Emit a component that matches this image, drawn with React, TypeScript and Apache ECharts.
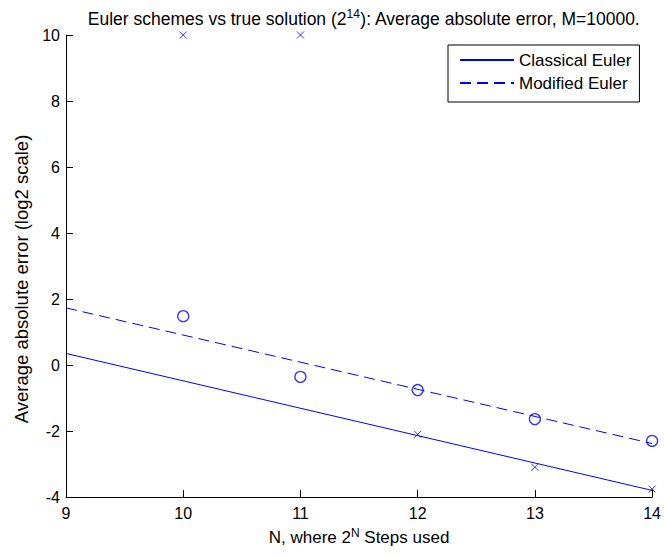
import React, { useEffect, useRef } from "react";
import * as echarts from "echarts";

const classicalX = [10, 11, 12, 13, 14];
const classicalY = [10, 10, -2.1, -3.1, -3.76];
const modifiedX = [10, 11, 12, 13, 14];
const modifiedY = [1.48, -0.36, -0.76, -1.64, -2.3];
const classicalFitX = [9, 14];
const classicalFitY = [0.35, -3.8];
const modifiedFitX = [9, 14];
const modifiedFitY = [1.73, -2.38];
const legendNames = ["Classical Euler", "Modified Euler"];

const BLUE = "#0000ff";
const FONT = "Liberation Sans, Arial, sans-serif";

export default function App() {
  const ref = useRef<HTMLDivElement>(null);
  useEffect(() => {
    const chart = echarts.init(ref.current!, null, { renderer: "svg" });
    const zip = (xs: number[], ys: number[]) => xs.map((x, i) => [x, ys[i]]);
    chart.setOption({
      animation: false,
      backgroundColor: "#fff",
      textStyle: { fontFamily: FONT },
      title: {
        text: "{a|Euler schemes vs true solution (2}{s|14}{a|): Average absolute error, M=10000.}",
        left: 359,
        top: 3,
        textAlign: "center",
        textStyle: {
          fontWeight: "normal",
          rich: {
            a: { fontSize: 17.5, color: "#000", fontFamily: FONT, fontWeight: "normal", verticalAlign: "middle", lineHeight: 22 },
            s: { fontSize: 12, color: "#000", fontFamily: FONT, fontWeight: "normal", verticalAlign: "top", lineHeight: 22 },
          },
        },
      },
      legend: {
        orient: "vertical",
        left: 448,
        top: 45,
        backgroundColor: "#fff",
        borderColor: "#000",
        borderWidth: 1,
        borderRadius: 0,
        padding: [5, 8, 9, 11],
        itemWidth: 54,
        itemHeight: 14,
        itemGap: 3,
        itemStyle: { opacity: 0 },
        textStyle: { fontSize: 17, color: "#000", fontFamily: FONT, lineHeight: 20 },
        data: legendNames,
      },
      grid: { left: 66, right: 11, top: 35, bottom: 60 },
      xAxis: {
        type: "value",
        min: 9,
        max: 14,
        interval: 1,
        name: "{a|N, where 2}{s|N}{a| Steps used}",
        nameLocation: "middle",
        nameGap: 30,
        nameTextStyle: {
          rich: {
            a: { fontSize: 17, color: "#000", fontFamily: FONT, verticalAlign: "middle", lineHeight: 20 },
            s: { fontSize: 12, color: "#000", fontFamily: FONT, verticalAlign: "top", lineHeight: 20 },
          },
        },
        axisLine: { onZero: false, lineStyle: { color: "#000", width: 1 } },
        axisTick: { inside: true, length: 7, lineStyle: { color: "#000" } },
        axisLabel: { color: "#000", fontSize: 16, fontFamily: FONT, margin: 8 },
        splitLine: { show: false },
      },
      yAxis: {
        type: "value",
        min: -4,
        max: 10,
        interval: 2,
        name: "Average absolute error (log2 scale)",
        nameLocation: "middle",
        nameGap: 33,
        nameTextStyle: { fontSize: 18.5, color: "#000", fontFamily: FONT, padding: [0, 26, 0, 0] },
        axisLine: { show: true, onZero: false, lineStyle: { color: "#000", width: 1 } },
        axisTick: { show: true, inside: true, length: 7, lineStyle: { color: "#000" } },
        axisLabel: { color: "#000", fontSize: 16, fontFamily: FONT, margin: 6 },
        splitLine: { show: false },
      },
      series: [
        {
          name: legendNames[0],
          type: "line",
          data: zip(classicalFitX, classicalFitY),
          symbol: "none",
          lineStyle: { color: BLUE, width: 1, type: "solid" },
          itemStyle: { color: BLUE },
        },
        {
          name: legendNames[1],
          type: "line",
          data: zip(modifiedFitX, modifiedFitY),
          symbol: "none",
          lineStyle: { color: BLUE, width: 1, type: [11, 6] },
          itemStyle: { color: BLUE },
        },
        {
          name: "classicalPts",
          type: "scatter",
          data: zip(classicalX, classicalY),
          symbol: "path://M0,0L10,10M10,0L0,10",
          symbolSize: 7,
          itemStyle: { color: "none", borderColor: BLUE, borderWidth: 1 },
        },
        {
          name: "modifiedPts",
          type: "scatter",
          data: zip(modifiedX, modifiedY),
          symbol: "circle",
          symbolSize: 11,
          itemStyle: { color: "none", borderColor: BLUE, borderWidth: 1.3 },
        },
      ],
    });
    return () => chart.dispose();
  }, []);
  return <div ref={ref} style={{ width: 664, height: 557, position: "absolute", left: 0, top: 0 }} />;
}
